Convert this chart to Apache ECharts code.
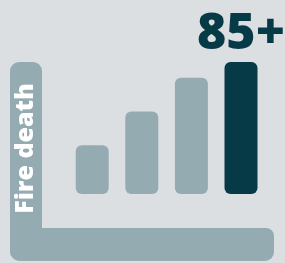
<!DOCTYPE html>
<html><head><meta charset="utf-8">
<script src="https://cdn.jsdelivr.net/npm/echarts@6/dist/echarts.min.js"></script>
<style>html,body{margin:0;padding:0;background:#dcdfe2}#c{width:285px;height:263px}</style>
</head><body><div id="c"></div>
<script>
const categories = ['<65', '65–74', '75–84', '85+'];
const values = [37, 62.5, 88, 100];
const highlight = '85+';
const axisTitle = 'Fire death';

const gray = '#95abb2', dark = '#073a47';
const chart = echarts.init(document.getElementById('c'), null, {renderer: 'canvas'});
chart.setOption({
  backgroundColor: '#dcdfe2',
  animation: false,
  grid: {left: 67.4, width: 198.4, top: 62, bottom: 69},
  xAxis: {type: 'category', data: categories, show: false},
  yAxis: {type: 'value', min: 0, max: 100, show: false},
  graphic: [
    {type: 'rect', shape: {x: 10, y: 62, width: 32, height: 199, r: [9, 9, 0, 10]}, style: {fill: gray}, z: 0},
    {type: 'rect', shape: {x: 10, y: 228, width: 264, height: 33, r: [0, 8, 9, 10]}, style: {fill: gray}, z: 0},
    {type: 'text', x: 25.5, y: 148.5, rotation: Math.PI / 2,
     style: {text: axisTitle, fill: '#ffffff', font: '800 25px "Open Sans"', textAlign: 'center', textVerticalAlign: 'middle'}, z: 5}
  ],
  series: [{
    type: 'bar',
    barWidth: 33,
    data: values.map((v, i) => ({
      value: v,
      itemStyle: {color: categories[i] === highlight ? dark : gray, borderRadius: 6},
      label: {show: categories[i] === highlight}
    })),
    label: {
      position: 'top', distance: 2, formatter: p => p.name,
      color: dark, fontFamily: 'Open Sans', fontWeight: 800, fontSize: 50
    }
  }]
});
</script></body></html>
